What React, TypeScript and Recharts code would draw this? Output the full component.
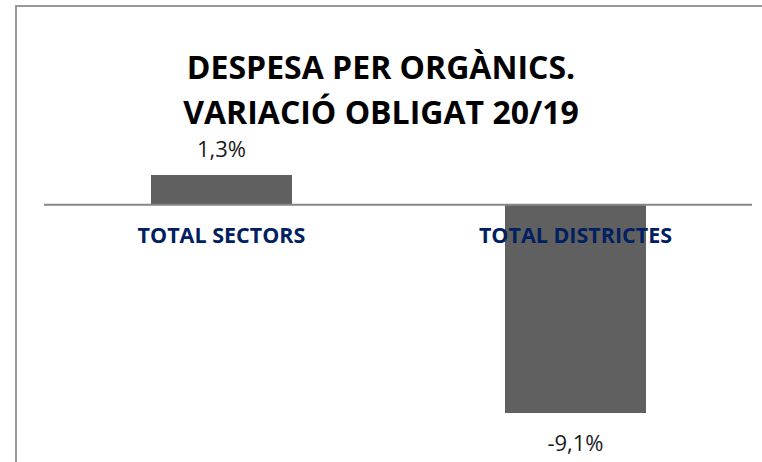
import { BarChart, Bar, XAxis, YAxis, ReferenceLine, LabelList } from 'recharts';

const categories = ['TOTAL SECTORS', 'TOTAL DISTRICTES'];
const variacio = [1.3, -9.1];
const titleLines = ['DESPESA PER ORGÀNICS.', 'VARIACIÓ OBLIGAT 20/19'];

const data = categories.map((name, i) => ({ name, value: variacio[i] }));

const FONT = '"Open Sans", "Noto Sans", sans-serif';

const formatPct = (v: number) => `${v.toFixed(1).replace('.', ',')}%`;

// etiqueta de valor + nom de categoria, posicionats a partir de la barra
function BarLabels(props: any) {
  const { x, y, width, height, value, index } = props;
  const top = Math.min(y, y + height);
  const bottom = Math.max(y, y + height);
  const cx = x + width / 2;
  const zeroY = value >= 0 ? bottom : top;
  return (
    <g>
      <text
        x={cx}
        y={value >= 0 ? top - 18 : bottom + 38}
        textAnchor="middle"
        fontFamily={FONT}
        fontSize={22}
        fill="#1a1a1a"
      >
        {formatPct(value)}
      </text>
      <text
        x={cx}
        y={zeroY + 38}
        textAnchor="middle"
        fontFamily={FONT}
        fontSize={21.5}
        fontWeight="bold"
        fill="#002060"
      >
        {categories[index]}
      </text>
    </g>
  );
}

export default function App() {
  return (
    <div style={{ position: 'absolute', left: 0, top: 0, width: 762, height: 462, overflow: 'hidden', background: '#fff' }}>
      <div
        style={{
          position: 'absolute',
          left: 15,
          top: 5,
          width: 747,
          height: 457,
          borderLeft: '2px solid #999',
          borderTop: '2px solid #999',
        }}
      />
      <div
        style={{
          position: 'absolute',
          left: 0,
          width: 762,
          top: 44,
          textAlign: 'center',
          fontFamily: FONT,
          fontWeight: 'bold',
          fontSize: 32,
          lineHeight: '45px',
          color: '#000',
        }}
      >
        {titleLines.map((t) => (
          <div key={t}>{t}</div>
        ))}
      </div>
      <div style={{ position: 'absolute', left: 0, top: 0 }}>
        <BarChart width={762} height={462} data={data} margin={{ top: 175, right: 10, bottom: 49, left: 44 }}>
          <XAxis dataKey="name" hide />
          <YAxis hide domain={[-9.1, 1.3]} />
          <Bar dataKey="value" fill="#606060" barSize={141} isAnimationActive={false}>
            <LabelList dataKey="value" content={<BarLabels />} />
          </Bar>
          <ReferenceLine y={0} stroke="#868686" strokeWidth={2} />
        </BarChart>
      </div>
    </div>
  );
}
